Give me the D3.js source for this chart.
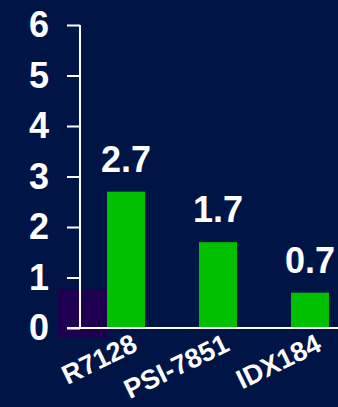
<!DOCTYPE html>
<html><head><meta charset="utf-8">
<script src="https://cdn.jsdelivr.net/npm/d3@7"></script>
<style>html,body{margin:0;padding:0;background:#001545;}svg{display:block;}</style>
</head><body><svg id="c" width="338" height="407"></svg>
<script>
const categories = ["R7128", "PSI-7851", "IDX184"];
const values = [2.7, 1.7, 0.7];
const valueLabels = ["2.7", "1.7", "0.7"];
const yTicks = [0, 1, 2, 3, 4, 5, 6];
const shadeCategories = ["R7128"];
const shadeLow = [-0.19];
const shadeHigh = [0.76];

const svg = d3.select("#c");
svg.append("rect").attr("width", 338).attr("height", 407).attr("fill", "#001545");

const x = d3.scaleBand().domain(categories).range([80, 356]).paddingInner(0.587).paddingOuter(0.2935);
const y = d3.scaleLinear().domain([0, 6]).range([328, 25]);
const font = "'Liberation Sans', Arial, sans-serif";

// shaded (purple) bar
svg.selectAll("rect.shade").data(shadeCategories).join("rect")
  .attr("class", "shade")
  .attr("x", d => x(d) - x.bandwidth() * 1.29)
  .attr("width", x.bandwidth() * 1.29)
  .attr("y", (d, i) => y(shadeHigh[i]))
  .attr("height", (d, i) => y(shadeLow[i]) - y(shadeHigh[i]))
  .attr("fill", "#1f0050");

// green bars
svg.selectAll("rect.bar").data(categories).join("rect")
  .attr("class", "bar")
  .attr("x", d => x(d))
  .attr("width", x.bandwidth())
  .attr("y", (d, i) => y(values[i]))
  .attr("height", (d, i) => y(0) - y(values[i]))
  .attr("fill", "#00c000");

// y axis
const yAxis = d3.axisLeft(y).tickValues(yTicks).tickSize(13).tickFormat(d3.format("d"));
const ga = svg.append("g").attr("transform", "translate(80,0)").call(yAxis);
ga.select(".domain").remove();
ga.selectAll(".tick line").attr("stroke", "#fff").attr("stroke-width", 2);
ga.selectAll(".tick text").attr("fill", "#fff").attr("font-family", font)
  .attr("font-weight", "bold").attr("font-size", 36).attr("x", -31).attr("dy", "0.33em");
svg.append("line").attr("x1", 80).attr("x2", 80).attr("y1", y(6)).attr("y2", y(0))
  .attr("stroke", "#fff").attr("stroke-width", 2);
// x baseline
svg.append("line").attr("x1", 67).attr("x2", 338).attr("y1", y(0)).attr("y2", y(0))
  .attr("stroke", "#fff").attr("stroke-width", 2);

// value labels
svg.selectAll("text.val").data(categories).join("text")
  .attr("class", "val")
  .attr("x", d => x(d) + x.bandwidth() / 2)
  .attr("y", (d, i) => y(values[i]) - 20)
  .attr("text-anchor", "middle")
  .attr("fill", "#fff").attr("font-family", font).attr("font-weight", "bold").attr("font-size", 36)
  .text((d, i) => valueLabels[i]);

// category labels
svg.selectAll("text.cat").data(categories).join("text")
  .attr("class", "cat")
  .attr("transform", d => `translate(${x(d) + x.bandwidth() / 2 + 13},${y(0) + 22}) rotate(-26)`)
  .attr("text-anchor", "end")
  .attr("fill", "#fff").attr("font-family", font).attr("font-weight", "bold").attr("font-size", 27)
  .text(d => d);
</script></body></html>
